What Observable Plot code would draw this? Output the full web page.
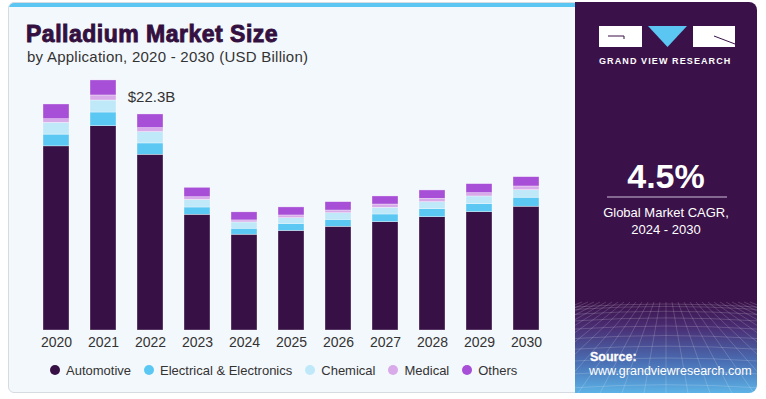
<!DOCTYPE html>
<html><head><meta charset="utf-8">
<script src="https://cdn.jsdelivr.net/npm/d3@7"></script>
<script src="https://cdn.jsdelivr.net/npm/@observablehq/plot@0.6"></script>
<style>
body{margin:0;background:#fff;font-family:"Liberation Sans",Arial,sans-serif;}
#root{position:relative;width:766px;height:399px;overflow:hidden;background:#fff}
.card{position:absolute;left:8px;top:2px;width:580px;height:391px;background:#f3f8fc;border:1px solid #d5dbe1;border-radius:6px;box-sizing:border-box;overflow:hidden}
.stripe{position:absolute;left:0;top:0;right:0;height:4px;background:#5cc6f2}
.title{position:absolute;left:26px;top:23px;font-size:23px;line-height:1;font-weight:bold;color:#33103f;-webkit-text-stroke:0.9px #33103f;letter-spacing:0.5px;white-space:nowrap}
.subtitle{position:absolute;left:27px;top:49px;font-size:15px;line-height:1;color:#333;letter-spacing:0.25px;white-space:nowrap}
#chart{position:absolute;left:8px;top:70px}
#legend{position:absolute;left:50px;top:362px;height:16px;display:flex;align-items:center;font-size:13px;color:#333;white-space:nowrap}
#legend .item{display:flex;align-items:center;margin-right:13px}
#legend .dot{width:10px;height:10px;border-radius:50%;margin-right:6px}
.panel{position:absolute;left:575px;top:2px;width:182px;height:391px;border-radius:0 8px 8px 0;overflow:hidden;
 background:linear-gradient(to bottom,#3a1149 0px,#3a1149 300px,#4a2d73 325px,#4a6fb4 360px,#5cb2e6 391px)}
.panel .t{position:absolute;color:#fff;white-space:nowrap;line-height:1}
</style></head>
<body>
<div id="root">
  <div class="card"><div class="stripe"></div></div>
  <div class="title">Palladium Market Size</div>
  <div class="subtitle">by Application, 2020 - 2030 (USD Billion)</div>
  <div id="chart"></div>
  <div id="legend"></div>
  <div class="panel">
    <svg width="182" height="391" style="position:absolute;left:0;top:0">
      <g id="grid" stroke="#ffffff" stroke-opacity="0.22" stroke-width="0.8" fill="none"></g>
      <rect x="24" y="24" width="43" height="21" fill="#fff"/>
      <path d="M 33 34 L 49 34 L 49 37" stroke="#3a1149" stroke-width="1" fill="none"/>
      <polygon points="73,24 112,24 92.5,45" fill="#5cc6f2"/>
      <rect x="118" y="24" width="42" height="21" fill="#fff"/>
      <path d="M 139 34 L 160 42" stroke="#3a1149" stroke-width="1" fill="none"/>
      <line x1="32" y1="195" x2="152" y2="195" stroke="#cdbfdc" stroke-width="1.2"/>
    </svg>
    <div class="t" style="left:24px;top:55px;font-size:9px;font-weight:bold;letter-spacing:1.1px">GRAND VIEW RESEARCH</div>
    <div class="t" style="left:0;width:182px;text-align:center;top:157px;font-size:34px;font-weight:bold">4.5%</div>
    <div class="t" style="left:0;width:182px;text-align:center;top:202px;font-size:13px;line-height:17px">Global Market CAGR,<br>2024 - 2030</div>
    <div class="t" style="left:15px;top:349px;font-size:12.5px;font-weight:bold;-webkit-text-stroke:0.3px #fff">Source:</div>
    <div class="t" style="left:14px;top:363px;font-size:12.5px">www.grandviewresearch.com</div>
  </div>
</div>
<script>
const years = [2020, 2021, 2022, 2023, 2024, 2025, 2026, 2027, 2028, 2029, 2030];
const segments = ["Automotive", "Electrical & Electronics", "Chemical", "Medical", "Others"];
const colors = ["#371146", "#5bc8f4", "#bfe8f8", "#d8aae9", "#a74fd6"];
const automotive = [19.0, 21.08, 18.13, 11.94, 9.88, 10.27, 10.70, 11.18, 11.69, 12.21, 12.77];
const electrical = [1.21, 1.41, 1.17, 0.75, 0.62, 0.72, 0.72, 0.79, 0.83, 0.83, 0.93];
const chemical   = [1.21, 1.24, 1.17, 0.79, 0.65, 0.60, 0.68, 0.69, 0.72, 0.79, 0.78];
const medical    = [0.38, 0.52, 0.41, 0.27, 0.21, 0.28, 0.28, 0.34, 0.35, 0.34, 0.38];
const others     = [1.52, 1.55, 1.41, 0.97, 0.83, 0.83, 0.86, 0.83, 0.86, 0.93, 0.96];
const labelYear = 2022;
const labelText = "$22.3B";

const series = [automotive, electrical, chemical, medical, others];
const rows = [];
years.forEach((y, i) => segments.forEach((s, j) => rows.push({year: y, segment: s, value: series[j][i]})));
const li = years.indexOf(labelYear);
const labelRow = [{year: labelYear, total: d3.sum(series, s => s[li]), text: labelText}];

const chart = Plot.plot({
  width: 568, height: 290,
  marginTop: 8, marginBottom: 30, marginLeft: 23, marginRight: 26,
  style: {background: "transparent", fontFamily: "'Liberation Sans', Arial, sans-serif", color: "#333"},
  x: {type: "band", domain: years, paddingInner: 0.45, paddingOuter: 0.225, label: null},
  y: {domain: [0, 26], axis: null},
  color: {domain: segments, range: colors},
  marks: [
    Plot.barY(rows, {x: "year", y: "value", fill: "segment", stroke: "#ffffff", strokeWidth: 0.6, strokeOpacity: 0.55}),
    Plot.axisX({tickSize: 0, tickPadding: 7, fontSize: 14, fill: "#333", tickFormat: d => String(d)}),
    Plot.text(labelRow, {x: "year", y: "total", text: "text", dy: -17, dx: 1, fontSize: 15, fill: "#333"})
  ]
});
document.getElementById("chart").appendChild(chart);

const legend = document.getElementById("legend");
segments.forEach((s, j) => {
  const it = document.createElement("div"); it.className = "item";
  const dot = document.createElement("span"); dot.className = "dot"; dot.style.background = colors[j];
  const tx = document.createElement("span"); tx.textContent = s;
  it.appendChild(dot); it.appendChild(tx); legend.appendChild(it);
});

// decorative perspective grid in the panel footer
const g = document.getElementById("grid");
const ns = "http://www.w3.org/2000/svg";
for (let k = 0; k < 12; k++) {
  const yy = 305 + Math.pow(k, 1.6) * 2.4;
  const l = document.createElementNS(ns, "path");
  l.setAttribute("d", `M0 ${yy} Q 91 ${yy - 6} 182 ${yy}`);
  g.appendChild(l);
}
for (let k = -14; k <= 14; k++) {
  const l = document.createElementNS(ns, "line");
  l.setAttribute("x1", 91 + k * 6); l.setAttribute("y1", 300);
  l.setAttribute("x2", 91 + k * 22); l.setAttribute("y2", 391);
  g.appendChild(l);
}
</script>
</body></html>
